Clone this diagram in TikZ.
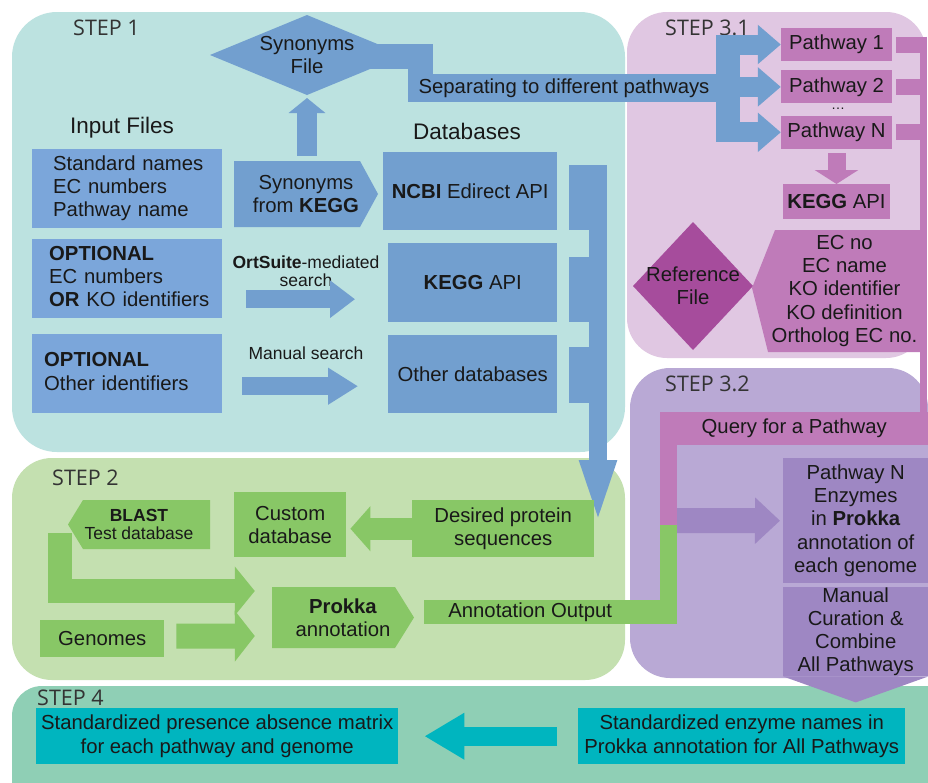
\documentclass[tikz,border=0pt]{standalone}
\usepackage{fontspec}
\setmainfont{Liberation Sans}
\newfontfamily\stepfont{Open Sans}
\usetikzlibrary{positioning,arrows.meta,calc}

\definecolor{bgone}{HTML}{BCE2E0}
\definecolor{bgtwo}{HTML}{C4E0B0}
\definecolor{bgthreeone}{HTML}{E0C7E2}
\definecolor{bgthreetwo}{HTML}{B9A9D5}
\definecolor{bgfour}{HTML}{8FCFB5}
\definecolor{blueC}{HTML}{729FCF}
\definecolor{blueL}{HTML}{7BA6DA}
\definecolor{pinkC}{HTML}{BF7BB9}
\definecolor{pinkD}{HTML}{A64C9C}
\definecolor{purpleC}{HTML}{9E87C3}
\definecolor{greenC}{HTML}{88C766}
\definecolor{tealC}{HTML}{00B5BF}

\newcommand{\bigtext}{\fontsize{20.3}{23.3}\selectfont}
\newcommand{\smalltext}{\fontsize{17.5}{18.5}\selectfont}
\newcommand{\headtext}{\fontsize{22.5}{26}\selectfont}
\newcommand{\inlines}[2]{\hspace*{#1}\begin{tabular}{@{}l@{}}#2\end{tabular}}

\begin{document}
\begin{tikzpicture}[
			x=1pt, y=-1pt,
			every node/.style={text=black!90},
			box/.style={rectangle, inner sep=0pt, align=center, font=\bigtext},
			leftbox/.style={box, fill=blueL, anchor=north west, minimum height=79pt, text width=190pt, align=left},
			dbbox/.style={box, fill=blueC, anchor=north west},
			pathbox/.style={box, fill=pinkC, minimum width=111pt, minimum height=33pt},
			steplabel/.style={anchor=west, inner sep=0pt, font=\stepfont\fontsize{21.5}{24}\selectfont, text=black!80},
			blockarrow/.style n args={4}{draw=#1, line width=#2, -{Triangle[width=#3, length=#4]}}
			]
			
			\useasboundingbox (0,0) rectangle (928,782);
			\fill[white] (0,0) rectangle (928,782);
			
			% panels
			\fill[bgone, rounded corners=45pt] (12,12) rectangle (625,452);
			\fill[bgthreeone, rounded corners=40pt] (627,12) rectangle (926,358);
			\fill[bgthreetwo, rounded corners=40pt] (630,368) rectangle (928,678);
			\fill[bgtwo, rounded corners=40pt] (12,458) rectangle (625,680);
			\fill[bgfour, rounded corners=30pt] (12,686) rectangle (960,820);
			
			% STEP 1
			\node[steplabel] (stepone) at (73,28) {STEP 1};
			\node[box, font=\headtext] (inputs) at (122,128) {Input Files};
			\node[box, font=\headtext] (databases) at (467,131) {Databases};
			
			\node[leftbox] (in1) at (32,149) {\inlines{21pt}{Standard names\\EC numbers\\Pathway name}};
			\node[leftbox] (in2) at (32,239) {\inlines{17pt}{\textbf{OPTIONAL}\\EC numbers\\\textbf{OR} KO identifiers}};
			\node[leftbox] (in3) at (32,334) {\inlines{12pt}{\textbf{OPTIONAL}\\Other identifiers}};
			
			\fill[blueC] (210,55) -- (307,15) -- (404,55) -- (307,95) -- cycle;
			\node[box] (synfile) at (307,55) {Synonyms\\File};
			\coordinate (synbottom) at (307,95);
			\coordinate (synright) at (370,56);
			\coordinate (sepjoin) at (420.5,88);
			\draw[blueC, line width=25pt] (synright) -| (sepjoin);
			
			\fill[blueC] (234,161) -- (360,161) -- (378,194) -- (360,227) -- (234,227) -- cycle;
			\node[box, minimum width=144pt, minimum height=66pt] (synkegg) at (306,194) {Synonyms\\from \textbf{KEGG}};
			\draw[blockarrow={blueC}{20pt}{36pt}{15pt}] ([xshift=1pt,yshift=5pt]synkegg.north) -- ([yshift=-3pt]synbottom);
			
			\node[dbbox, minimum width=174pt, minimum height=78pt] (ncbi) at (383,152) {\textbf{NCBI} Edirect API};
			\node[dbbox, minimum width=169pt, minimum height=79pt] (keggdb) at (388,243) {\textbf{KEGG} API};
			\node[dbbox, minimum width=169pt, minimum height=78pt] (otherdb) at (388,335) {Other databases};
			
			\node[box, font=\smalltext] (ortsearch) at (306,271) {\textbf{OrtSuite}-mediated\\search};
			\node[box, font=\smalltext] (mansearch) at (306,353) {Manual search};
			\draw[blockarrow={blueC}{18pt}{36pt}{25pt}] ([xshift=24pt,yshift=-20.5pt]in2.east) -- ([xshift=-33pt,yshift=-16.5pt]keggdb.west);
			\draw[blockarrow={blueC}{18pt}{35pt}{30pt}] ([xshift=20pt,yshift=-12.5pt]in3.east) -- ([xshift=-30pt,yshift=-12pt]otherdb.west);
			
			% databases merge into one arrow
			\foreach \top/\bot in {165/230, 257/322, 347/403}
			\fill[blueC] (569,\top) rectangle (607,\bot);
			\coordinate (mergetop) at (598,165);
			\coordinate (mergetip) at (598,532);
			\draw[blockarrow={blueC}{18pt}{31pt}{72pt}] (mergetop) -- (mergetip);
			
			\node[box, fill=blueC, minimum width=312pt, minimum height=28pt] (sep) at (564,88) {Separating to different pathways};
			
			% STEP 3.1
			\node[steplabel] (stepthreeone) at (665,28) {STEP 3.1};
			\node[pathbox] (pw1) at (836.5,44.5) {Pathway 1};
			\node[pathbox, below=9pt of pw1] (pw2) {Pathway 2};
			\node[pathbox, below=12pt of pw2] (pwn) {Pathway N};
			\node[box, font=\fontsize{14}{16}\selectfont] (pwdots) at (838,109) {\ldots};
			
			\fill[blueC] (716,34.5) rectangle (740,141.5);
			\coordinate (fork) at (728,88);
			\foreach \p in {pw1,pw2,pwn}
			\draw[blockarrow={blueC}{20pt}{38pt}{23pt}] (fork |- \p.west) -- (\p.west);
			
			\coordinate (rail) at (923.5,36.5);
			\foreach \p in {pw1,pw2,pwn}
			\draw[pinkC, line width=16pt] ([xshift=4pt]\p.east) -- (rail |- \p.east);
			
			\node[pathbox, minimum width=107pt, minimum height=35pt, below=35pt of pwn] (keggapi) {\textbf{KEGG} API};
			\draw[blockarrow={pinkC}{18pt}{43pt}{14pt}] ([yshift=-4pt]pwn.south) -- (keggapi.north);
			
			\fill[pinkD] (633,286) -- (693,222) -- (753,286) -- (693,350) -- cycle;
			\node[box] (reffile) at (693,286) {Reference\\File};
			\fill[pinkC] (775,230) -- (921,230) -- (921,352) -- (768,352) -- (752,288) -- cycle;
			\node[box, minimum width=153pt, minimum height=122pt] (ecinfo) at (844.5,291) {EC no\\EC name\\KO identifier\\KO definition\\Ortholog EC no.};
			
			% STEP 3.2
			\node[steplabel] (stepthreetwo) at (665,384) {STEP 3.2};
			\node[box, fill=pinkC, anchor=north west, minimum width=268pt, minimum height=33pt] (query) at (660,412) {Query for a Pathway};
			\draw[pinkC, line width=7pt] (rail) -- (rail |- query.north);
			\coordinate (bend) at (668.5,525);
			\fill[pinkC] (query.south west) rectangle ([xshift=8.5pt]bend);
			
			\node[box, fill=purpleC, anchor=north west, minimum width=145pt, minimum height=125pt] (enz) at (783,458) {Pathway N\\Enzymes\\in \textbf{Prokka}\\annotation of\\each genome};
			\coordinate (qtap) at (677,520.5);
			\draw[blockarrow={purpleC}{25pt}{45pt}{25pt}, shorten >=3pt] (qtap) -- (enz.west);
			
			\node[box, fill=purpleC, anchor=north west, minimum width=145pt, minimum height=89pt] (manual) at (783,587) {Manual\\Curation \&\\Combine\\All Pathways};
			\fill[purpleC] (manual.south west) -- (manual.south east) -- ([yshift=-26pt]manual.south) -- cycle;
			
			% STEP 2
			\node[steplabel] (steptwo) at (52,478) {STEP 2};
			\node[box, fill=greenC, anchor=north west, minimum width=182pt, minimum height=57pt] (desired) at (412,500) {Desired protein\\sequences};
			\node[box, fill=greenC, anchor=north west, minimum width=112pt, minimum height=65pt] (custom) at (234,492) {Custom\\database};
			\draw[blockarrow={greenC}{22pt}{44pt}{20pt}, shorten >=4pt] (desired.west) -- (desired.west -| custom.east);
			
			\fill[greenC] (68,524.5) -- (83,500) -- (210,500) -- (210,549) -- (83,549) -- cycle;
			\node[box, font=\smalltext, minimum width=142pt, minimum height=49pt] (blast) at (139,524.5) {\textbf{BLAST}\\Test database};
			
			\fill[greenC] (272,587) -- (395,587) -- (414,617.5) -- (395,648) -- (272,648) -- cycle;
			\node[box, minimum width=142pt, minimum height=61pt] (prokka) at (343,617.5) {\textbf{Prokka}\\annotation};
			
			\coordinate (blastfoot) at (60,533);
			\draw[blockarrow={greenC}{24pt}{48pt}{20pt}] (blastfoot) |- ([xshift=-17pt,yshift=26.5pt]prokka.west);
			
			\node[box, fill=greenC, anchor=north west, minimum width=124pt, minimum height=37pt] (genomes) at (40,620) {Genomes};
			\draw[blockarrow={greenC}{25pt}{50pt}{20pt}] ([xshift=12pt,yshift=2.5pt]genomes.east) -- ([xshift=-17pt,yshift=-18.5pt]prokka.west);
			
			\node[box, fill=greenC, anchor=north west, minimum width=212pt, minimum height=24pt] (annot) at (424,600) {Annotation Output};
			\fill[greenC] (annot.north east) rectangle ([xshift=41pt]annot.south east);
			\fill[greenC] ([xshift=-8.5pt]bend) rectangle ([xshift=41pt]annot.south east);
			
			% STEP 4
			\node[steplabel] (stepfour) at (37,698) {STEP 4};
			\node[box, fill=tealC, anchor=north west, minimum width=362pt, minimum height=56pt] (presence) at (36,708) {Standardized presence absence matrix\\for each pathway and genome};
			\node[box, fill=tealC, anchor=north west, minimum width=327pt, minimum height=56pt] (stdnames) at (578,708) {Standardized enzyme names in\\Prokka annotation for All Pathways};
			\draw[blockarrow={tealC}{19pt}{44pt}{40pt}, shorten <=21pt, shorten >=26pt] (stdnames.west) -- (presence.east);
			
		\end{tikzpicture}
\end{document}
